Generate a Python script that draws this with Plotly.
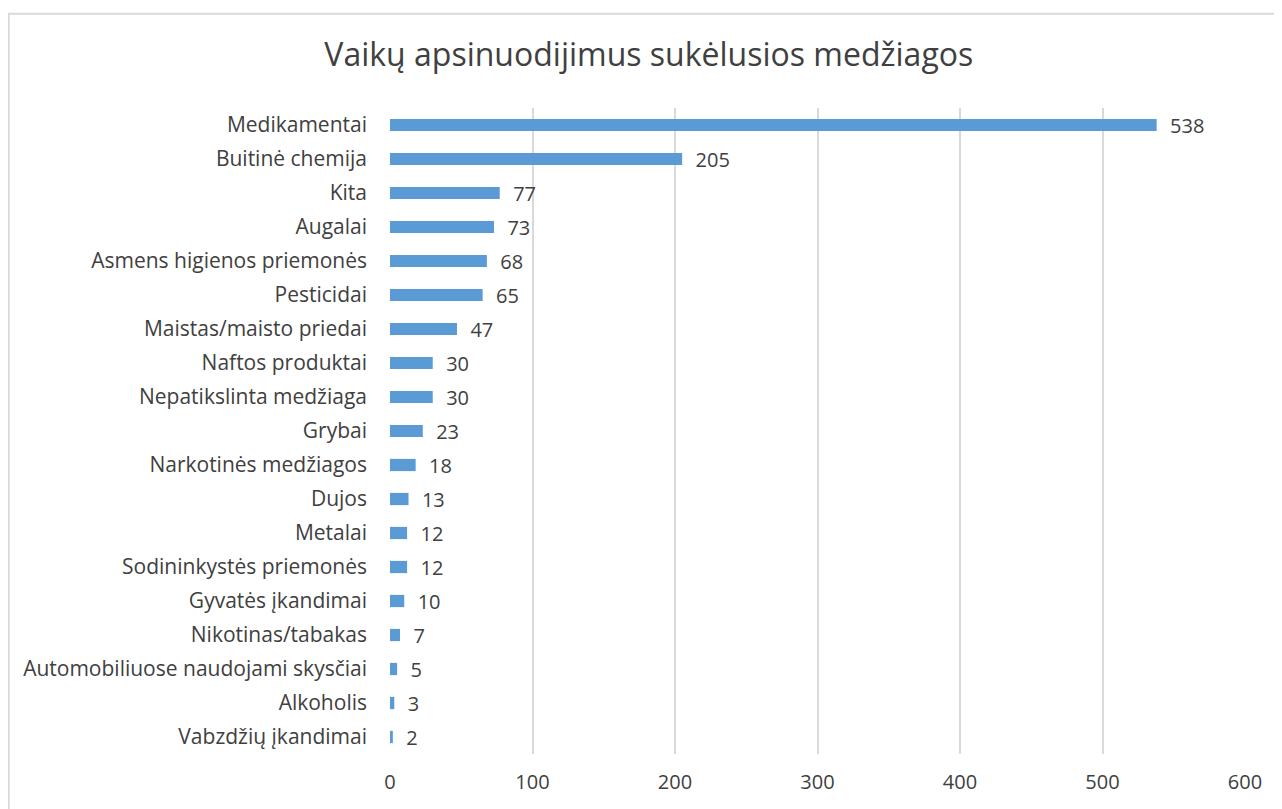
import plotly.graph_objects as go

# categories, top to bottom as in the chart
categories = [
    "Medikamentai", "Buitinė chemija", "Kita", "Augalai",
    "Asmens higienos priemonės", "Pesticidai", "Maistas/maisto priedai",
    "Naftos produktai", "Nepatikslinta medžiaga", "Grybai",
    "Narkotinės medžiagos", "Dujos", "Metalai", "Sodininkystės priemonės",
    "Gyvatės įkandimai", "Nikotinas/tabakas",
    "Automobiliuose naudojami skysčiai", "Alkoholis", "Vabzdžių įkandimai",
]
values = [538, 205, 77, 73, 68, 65, 47, 30, 30, 23, 18, 13, 12, 12, 10, 7, 5, 3, 2]
x_ticks = [0, 100, 200, 300, 400, 500, 600]

font_family = "Open Sans, Liberation Sans, sans-serif"
text_color = "#404040"

fig = go.Figure()
fig.add_trace(go.Bar(
    x=values[::-1],
    y=categories[::-1],
    orientation="h",
    width=0.36,
    marker=dict(color="#5B9BD5", line=dict(width=0)),
    text=[f"  {v}" for v in values[::-1]],
    textposition="outside",
    constraintext="none",
    textfont=dict(size=20, color=text_color, family=font_family),
    cliponaxis=False,
))

# chart border (page body has an 8px margin, so the figure is a bit smaller)
fig.add_shape(type="rect", xref="paper", yref="paper",
              x0=-0.446, x1=1.06, y0=-0.1, y1=1.146,
              line=dict(color="#d9d9d9", width=2), fillcolor="rgba(0,0,0,0)",
              layer="below")

fig.update_layout(
    width=1274, height=801,
    margin=dict(l=382, r=37, t=100, b=55),
    paper_bgcolor="white", plot_bgcolor="white",
    showlegend=False,
    title=dict(text="Vaikų apsinuodijimus sukėlusios medžiagos",
               x=0.503, xanchor="center", y=0.942, yanchor="middle",
               font=dict(size=32, color=text_color, family=font_family)),
    xaxis=dict(range=[0, 600], tickvals=x_ticks, showgrid=True,
               gridcolor="#d9d9d9", gridwidth=1.5, zeroline=False,
               showline=False, ticks="", ticklabelstandoff=14,
               tickfont=dict(size=20, color=text_color, family=font_family)),
    yaxis=dict(showgrid=False, zeroline=False, showline=False, ticks="",
               ticklabelstandoff=22,
               tickfont=dict(size=21, color=text_color, family=font_family)),
    bargap=0.6,
)

fig.write_html("out.html")
